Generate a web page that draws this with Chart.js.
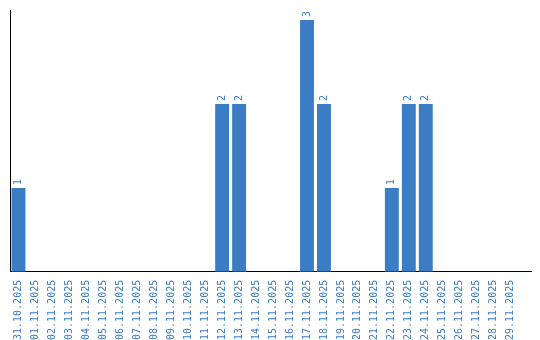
<!DOCTYPE html>
<html>
<head>
<meta charset="utf-8">
<script src="https://cdn.jsdelivr.net/npm/chart.js@4"></script>
<style>
    html, body { margin: 0; padding: 0; background: #fff; }
    #wrap { width: 540px; height: 340px; }
</style>
</head>
<body>
<div id="wrap"><canvas id="dayChart"></canvas></div>
<script>
// Дни периода и количество за каждый день
const DAYS = [
    '31.10.2025','01.11.2025','02.11.2025','03.11.2025','04.11.2025',
    '05.11.2025','06.11.2025','07.11.2025','08.11.2025','09.11.2025',
    '10.11.2025','11.11.2025','12.11.2025','13.11.2025','14.11.2025',
    '15.11.2025','16.11.2025','17.11.2025','18.11.2025','19.11.2025',
    '20.11.2025','21.11.2025','22.11.2025','23.11.2025','24.11.2025',
    '25.11.2025','26.11.2025','27.11.2025','28.11.2025','29.11.2025',
];
const COUNTS = [
    1, 0, 0, 0, 0, 0, 0, 0, 0, 0,
    0, 0, 2, 2, 0, 0, 0, 3, 2, 0,
    0, 0, 1, 2, 2, 0, 0, 0, 0, 0,
];

const BLUE = '#3b7dc4';
const FONT = '"DejaVu Sans Mono", monospace';

// Подписи значений над столбцами (повёрнуты на 90°)
const valueLabels = {
    id: 'valueLabels',
    afterDatasetsDraw(chart) {
        const ctx = chart.ctx;
        const meta = chart.getDatasetMeta(0);
        ctx.save();
        ctx.fillStyle = BLUE;
        ctx.font = '10px ' + FONT;
        meta.data.forEach((bar, i) => {
            const v = COUNTS[i];
            if (!v) return;
            ctx.save();
            ctx.translate(bar.x, bar.y - 3);
            ctx.rotate(-Math.PI / 2);
            ctx.textAlign = 'left';
            ctx.textBaseline = 'middle';
            ctx.fillText(String(v), 0, 0);
            ctx.restore();
        });
        ctx.restore();
    },
};

new Chart(document.getElementById('dayChart'), {
    type: 'bar',
    data: {
        labels: DAYS,
        datasets: [{
            data: COUNTS,
            backgroundColor: BLUE,
            barPercentage: 0.82,
            categoryPercentage: 1,
        }],
    },
    options: {
        responsive: true,
        maintainAspectRatio: false,
        animation: false,
        layout: { padding: { left: 2, right: 9, top: 10, bottom: 0 } },
        plugins: {
            legend: { display: false },
            tooltip: { enabled: false },
        },
        scales: {
            x: {
                // немного пустого места справа после последнего дня
                afterBuildTicks: s => { s._valueRange = DAYS.length + 0.7; },
                grid: { display: false },
                border: { display: true, color: '#000', width: 1 },
                ticks: {
                    color: BLUE,
                    font: { family: FONT, size: 10 },
                    minRotation: 90,
                    maxRotation: 90,
                    autoSkip: false,
                    padding: 0,
                },
            },
            y: {
                min: 0,
                max: 3.12,
                grid: { display: false },
                border: { display: true, color: '#000', width: 1 },
                ticks: { display: false },
            },
        },
    },
    plugins: [valueLabels],
});
</script>
</body>
</html>
